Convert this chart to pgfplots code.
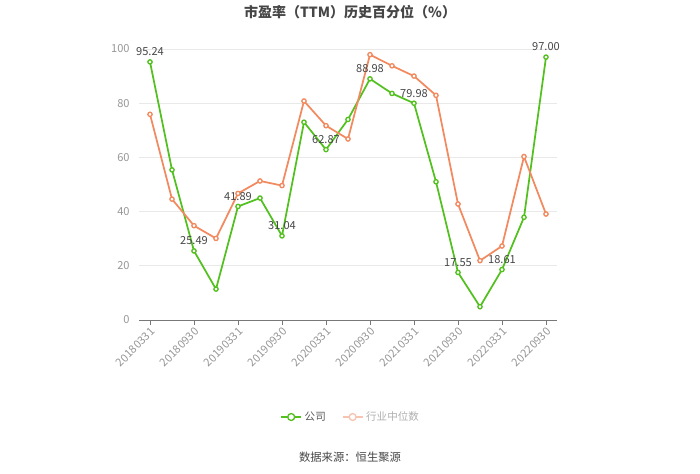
\documentclass[border=0pt]{standalone}
\usepackage{pgfplots}
\pgfplotsset{compat=1.18}
\usepackage{fontspec}
\setmainfont{Noto Sans CJK SC}
\definecolor{cgreen}{RGB}{82,192,30}
\definecolor{corange}{RGB}{242,137,95}
\definecolor{corangelight}{RGB}{248,196,178}
\definecolor{tickgray}{RGB}{150,150,150}
\definecolor{gridgray}{RGB}{233,233,233}
\definecolor{labgray}{RGB}{70,70,70}
\definecolor{leggray}{RGB}{90,90,90}
\definecolor{leglight}{RGB}{175,175,175}
\definecolor{axgray}{RGB}{120,120,120}
\pgfplotstableread{
x comp ind
0 95.24 75.9
1 55.4 44.6
2 25.49 34.8
3 11.4 30.1
4 41.89 46.7
5 45.0 51.3
6 31.04 49.6
7 73.0 80.8
8 62.87 71.7
9 74.0 66.8
10 88.98 97.9
11 83.6 93.8
12 79.98 90.0
13 51.0 82.9
14 17.55 42.8
15 4.9 21.9
16 18.61 27.3
17 37.9 60.3
18 97.00 39.1
}\datatable
\begin{document}
\begin{tikzpicture}
\path[use as bounding box] (0,0) rectangle (525pt,355.5pt);
\begin{axis}[
  at={(104.25pt,115.5pt)}, anchor=south west,
  scale only axis, width=313.5pt, height=203.25pt,
  xmin=-0.5, xmax=18.5, ymin=0, ymax=100,
  axis x line*=bottom, axis y line*=left,
  x axis line style={axgray, line width=0.6pt},
  y axis line style={draw=none},
  xtick={0,2,...,18},
  xticklabels={20180331,20180930,20190331,20190930,20200331,20200930,20210331,20210930,20220331,20220930},
  x tick label style={rotate=45, anchor=north east, font=\fontsize{8.3}{9}\selectfont, text=tickgray, inner sep=1pt},
  xtick style={axgray, line width=0.6pt},
  tick align=outside, major tick length=3.5pt,
  ytick={0,20,...,100},
  ytick style={draw=none},
  y tick label style={font=\fontsize{8.3}{9}\selectfont, text=tickgray},
  ymajorgrids, major grid style={gridgray, line width=0.6pt},
  /pgf/number format/assume math mode=true,
  legend columns=2,
  legend style={at={(0.507,-0.358)}, anchor=center, draw=none, fill=none,
    font=\fontsize{7.9}{9}\selectfont,
    /tikz/every even column/.append style={column sep=10pt}},
  legend image code/.code={
    \draw[#1] (0pt,0pt) -- (15pt,0pt);
    \draw[#1, fill=white, line width=1pt] (7.5pt,0pt) circle (2.6pt);
  },
  clip=false,
]
\addlegendimage{cgreen, line width=1.3pt}
\addlegendentry{\textcolor{leggray}{公司}}
\addlegendimage{corangelight, line width=1.3pt}
\addlegendentry{\textcolor{leglight}{行业中位数}}
\addplot[forget plot, cgreen, line width=1.3pt, mark=*, mark size=1.6pt, mark options={fill=white, draw=cgreen, line width=1pt}] table[x=x, y=comp] {\datatable};
\addplot[forget plot, corange, line width=1.3pt, mark=*, mark size=1.6pt, mark options={fill=white, draw=corange, line width=1pt}] table[x=x, y=ind] {\datatable};
\addplot[draw=none, mark=none, forget plot, nodes near coords, point meta=y,
  nodes near coords style={font=\fontsize{8.3}{9}\selectfont, text=labgray, anchor=south, yshift=1pt,
    /pgf/number format/.cd, fixed, fixed zerofill, precision=2}]
  coordinates {(0,95.24) (2,25.49) (4,41.89) (6,31.04) (8,62.87) (10,88.98) (12,79.98) (14,17.55) (16,18.61) (18,97.00)};
\end{axis}
\node[font=\bfseries\fontsize{10.5}{12}\selectfont, text=labgray] at (262.5pt,346.5pt) {市盈率（TTM）历史百分位（\%）};
\node[font=\fontsize{8.5}{10}\selectfont, text=labgray] at (262.5pt,12.75pt) {数据来源：恒生聚源};
\end{tikzpicture}
\end{document}
